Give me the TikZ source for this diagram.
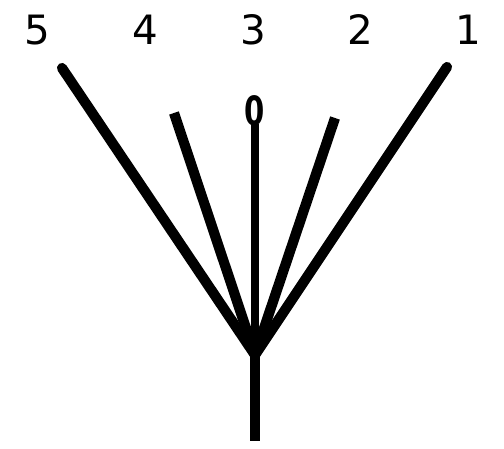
\documentclass[tikz,border=0pt]{standalone}
\usepackage{fontspec}
\setmainfont{DejaVu Sans}
\usetikzlibrary{positioning}
\tikzset{
  every picture/.style={line width=5.8pt},
  num/.style={font=\fontsize{23}{26}\selectfont, inner sep=0pt},
  branch/.style={draw=black},
  outer/.style={branch, line cap=round},
}

\begin{document}
\begin{tikzpicture}[x=0.02cm, y=-0.02cm]
  \useasboundingbox (0,0) rectangle (504,449);
  % labels
  \node[num] (l5) at (37,30) {5};
  \node[num] (l4) at (145,30) {4};
  \node[num] (l3) at (253,30) {3};
  \node[num] (l2) at (360,30) {2};
  \node[num] (l1) at (468,30) {1};
  \node[num, xscale=0.72, font=\fontsize{23}{26}\selectfont\fontseries{b}\selectfont] (zero) at (255,111) {0};
  % fork
  \coordinate (hub) at (255,355);
  \coordinate (foot) at (255,441);
  \coordinate (t5) at (62,68);
  \coordinate (t4) at (174,113);
  \coordinate (t2) at (335,118);
  \coordinate (t1) at (447,67);
  \draw[outer] (t5) -- (hub);
  \draw[outer] (t1) -- (hub);
  \draw[branch] (t4) -- (hub);
  \draw[branch] (t2) -- (hub);
  \draw[branch, line width=4.8pt] ([yshift=4pt]zero.south) -- (hub);
  \draw[branch] (hub) -- (foot);
\end{tikzpicture}
\end{document}
